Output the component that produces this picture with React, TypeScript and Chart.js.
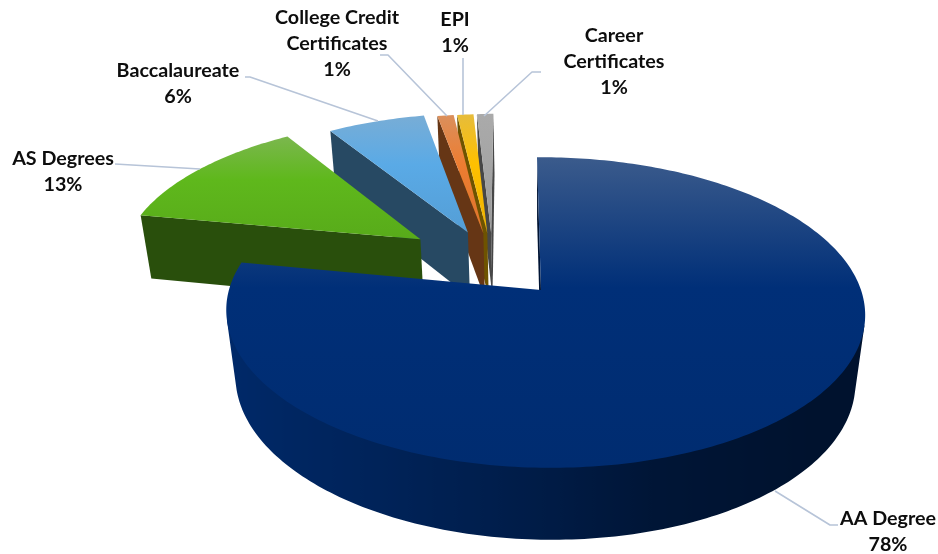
import React, { useEffect, useRef } from "react";
import { Chart, registerables } from "chart.js";

Chart.register(...registerables);

const categories: string[][] = [
  ["AA Degree"],
  ["AS Degrees"],
  ["Baccalaureate"],
  ["College Credit", "Certificates"],
  ["EPI"],
  ["Career", "Certificates"],
];
const shares = [78, 13, 6, 1, 1, 1];
const sliceColors = ["#002F78", "#5FB81C", "#5AAAE6", "#ED7D31", "#FFC000", "#A5A5A5"];
const sliceOffsets = [58.6, 71, 55.7, 51, 50.5, 50.5];

// Label anchors (centre x, first line middle y) and leader polylines, one per slice.
const labelAnchors = [
  [888, 519],
  [63, 159],
  [178, 71],
  [337, 18],
  [455, 20],
  [614, 36],
];
const leaderPaths = [
  [[775, 491], [830, 525], [838, 525]],
  [[115, 164], [200, 169]],
  [[245, 77], [250, 77], [378, 121]],
  [[380, 55], [388, 55], [447, 116]],
  [[463, 58], [463, 115]],
  [[541, 72], [532, 72], [484, 116]],
];

// Perspective camera: maps pie-plane coordinates (u right, v away, h down) to the canvas.
const camera = { x: 541, y: 290, k: 316, c: -4.6, b: 152, m: 69, a: 0.145, e: -0.0125, g: 0.03 };

// Wall brightness against the horizontal component of the wall's outward normal.
const wallLight = [
  [-1, 0.88],
  [-0.5, 0.75],
  [-0.16, 0.64],
  [0, 0.58],
  [0.3, 0.45],
  [0.8, 0.38],
  [1, 0.38],
];

function project(u: number, v: number, h: number): [number, number] {
  const w = 1 + camera.a * v + camera.e * u + camera.g * h;
  return [camera.x + (camera.k * u + camera.c * v) / w, camera.y + (-camera.b * v + camera.m * h) / w];
}

function rgb(hex: string): number[] {
  const n = parseInt(hex.slice(1), 16);
  return [(n >> 16) & 255, (n >> 8) & 255, n & 255];
}
function scaled(c: number[], f: number): string {
  return `rgb(${c.map((x) => Math.round(x * f)).join(",")})`;
}
function mixed(c: number[], grey: number, t: number): string {
  return `rgb(${c.map((x) => Math.round(x * (1 - t) + grey * t)).join(",")})`;
}

function wallShade(nx: number): number {
  for (let i = 1; i < wallLight.length; i++) {
    const [x0, y0] = wallLight[i - 1];
    const [x1, y1] = wallLight[i];
    if (nx <= x1) return y0 + ((y1 - y0) * (nx - x0)) / (x1 - x0);
  }
  return wallLight[wallLight.length - 1][1];
}

function facesViewer(p: [number, number][]): boolean {
  let area = 0;
  for (let i = 0; i < p.length; i++) {
    const q = p[(i + 1) % p.length];
    area += p[i][0] * q[1] - q[0] * p[i][1];
  }
  return area < 0;
}

function fillPoly(ctx: CanvasRenderingContext2D, p: [number, number][], fill: string | CanvasGradient) {
  ctx.beginPath();
  p.forEach(([x, y], i) => (i ? ctx.lineTo(x, y) : ctx.moveTo(x, y)));
  ctx.closePath();
  ctx.fillStyle = fill;
  ctx.fill();
}

const pie3d = {
  id: "pie3d",
  beforeDatasetsDraw(chart: any) {
    const ctx: CanvasRenderingContext2D = chart.ctx;
    const arcs = chart.getDatasetMeta(0).data as any[];
    const shift = (arc: any) => {
      const mid = (arc.startAngle + arc.endAngle) / 2;
      const e = arc.options.offset / arc.outerRadius;
      return [e * Math.cos(mid), -e * Math.sin(mid)];
    };
    const [u0, v0] = shift(arcs[0]);

    for (let i = arcs.length - 1; i >= 0; i--) {
      const arc = arcs[i];
      const base = rgb(sliceColors[i]);
      const [su, sv] = shift(arc);
      const du = su - u0;
      const dv = sv - v0;
      const steps = Math.max(4, Math.ceil(((arc.endAngle - arc.startAngle) * 180) / Math.PI));
      const rim: number[] = [];
      for (let s = 0; s <= steps; s++) rim.push(arc.startAngle + ((arc.endAngle - arc.startAngle) * s) / steps);
      const at = (a: number, h: number, r = 1) => project(du + r * Math.cos(a), dv - r * Math.sin(a), h);
      const apex = (h: number) => project(du, dv, h);

      // Radial faces
      const sideColor = scaled(base, 0.43);
      const first = rim[0];
      const last = rim[rim.length - 1];
      const q1: [number, number][] = [apex(0), at(first, 0), at(first, 1), apex(1)];
      const q2: [number, number][] = [at(last, 0), apex(0), apex(1), at(last, 1)];
      if (facesViewer(q1)) fillPoly(ctx, q1, sideColor);
      if (facesViewer(q2)) fillPoly(ctx, q2, sideColor);

      // Rim wall: the visible run of the arc as one band, shaded left to right.
      // Its upper edge runs just inside the rim, under the top face, so no seam shows.
      const visible: number[] = [];
      for (let s = 0; s < steps; s++) {
        const q: [number, number][] = [at(rim[s], 0), at(rim[s + 1], 0), at(rim[s + 1], 1), at(rim[s], 1)];
        if (facesViewer(q)) visible.push(s);
      }
      if (visible.length) {
        const angles = [...visible.map((s) => rim[s]), rim[visible[visible.length - 1] + 1]];
        const upper = angles.map((a) => at(a, 0, 0.97));
        const lower = angles.map((a) => at(a, 1));
        const band: [number, number][] = [
          at(angles[0], 0),
          ...upper,
          at(angles[angles.length - 1], 0),
          ...lower.reverse(),
        ];
        const xs = band.map((p) => p[0]);
        const xMin = Math.min(...xs);
        const xMax = Math.max(...xs);
        const grad = ctx.createLinearGradient(xMin, 0, xMax, 0);
        angles.forEach((a) => {
          const x = at(a, 0.5)[0];
          const t = Math.min(1, Math.max(0, (x - xMin) / (xMax - xMin || 1)));
          grad.addColorStop(t, scaled(base, wallShade(Math.cos(a))));
        });
        fillPoly(ctx, band, grad);
      }

      // Top face with a soft highlight at the far edge
      const outline: [number, number][] = [apex(0), ...rim.map((a) => at(a, 0))];
      const ys = outline.map((p) => p[1]);
      const yMin = Math.min(...ys);
      const yMax = Math.max(...ys);
      const grad = ctx.createLinearGradient(0, yMin, 0, yMax);
      grad.addColorStop(0, mixed(base, 180, 0.33));
      grad.addColorStop(0.42, scaled(base, 1));
      grad.addColorStop(1, scaled(base, 0.93));
      fillPoly(ctx, outline, grad);
    }
    return false;
  },
  afterDraw(chart: any) {
    const ctx: CanvasRenderingContext2D = chart.ctx;
    const values = chart.data.datasets[0].data as number[];
    const total = values.reduce((a, b) => a + b, 0);

    ctx.strokeStyle = "#B7C4D8";
    ctx.lineWidth = 1.6;
    ctx.lineJoin = "round";
    leaderPaths.forEach((path) => {
      ctx.beginPath();
      path.forEach(([x, y], k) => (k ? ctx.lineTo(x, y) : ctx.moveTo(x, y)));
      ctx.stroke();
    });

    ctx.fillStyle = "#0D0D0D";
    ctx.font = "bold 19.7px Lato";
    ctx.textAlign = "center";
    ctx.textBaseline = "middle";
    categories.forEach((lines, i) => {
      const [x, y] = labelAnchors[i];
      const rows = [...lines, `${Math.round((values[i] / total) * 100)}%`];
      rows.forEach((row, k) => ctx.fillText(row, x, y + k * 26));
    });
  },
};

export default function App() {
  const ref = useRef<HTMLCanvasElement>(null);
  useEffect(() => {
    const chart = new Chart(ref.current!, {
      type: "pie",
      data: {
        labels: categories.map((c) => c.join(" ")),
        datasets: [{ data: shares, backgroundColor: sliceColors, offset: sliceOffsets, borderWidth: 0 }],
      },
      options: {
        animation: false,
        responsive: false,
        plugins: { legend: { display: false }, tooltip: { enabled: false } },
      },
      plugins: [pie3d],
    } as any);
    return () => chart.destroy();
  }, []);
  return (
    <div style={{ position: "absolute", left: 0, top: 0, width: 938, height: 554, background: "#fff" }}>
      <canvas ref={ref} width={938} height={554} style={{ display: "block" }} />
    </div>
  );
}
